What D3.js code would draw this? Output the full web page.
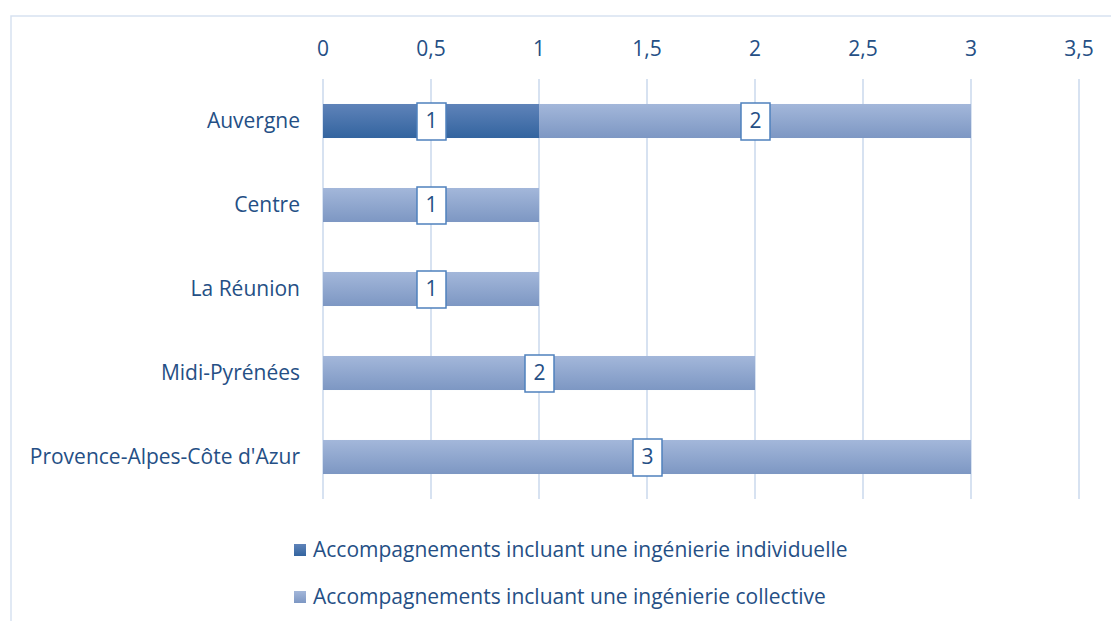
<!DOCTYPE html>
<meta charset="utf-8">
<style>
body { margin: 0; background: #fff; }
text { font-family: "Open Sans", sans-serif; fill: #254f85; }
.grid line { stroke: #d7e2f1; stroke-width: 2; }
</style>
<svg width="1111" height="621"></svg>
<script src="https://cdn.jsdelivr.net/npm/d3@7/dist/d3.min.js"></script>
<script>

var regions = ["Auvergne", "Centre", "La Réunion", "Midi-Pyrénées", "Provence-Alpes-Côte d'Azur"];
var individuelle = [1, 0, 0, 0, 0];
var collective = [2, 1, 1, 2, 3];
var ticks = [0, 0.5, 1, 1.5, 2, 2.5, 3, 3.5];
var seriesNames = ["Accompagnements incluant une ingénierie individuelle",
                   "Accompagnements incluant une ingénierie collective"];

var svg = d3.select("svg");
var defs = svg.append("defs");
var fs = 21;

function grad(id, top, bottom) {
  var lg = defs.append("linearGradient").attr("id", id)
      .attr("x1", 0).attr("y1", 0).attr("x2", 0).attr("y2", 1);
  lg.append("stop").attr("offset", "0%").attr("stop-color", top);
  lg.append("stop").attr("offset", "100%").attr("stop-color", bottom);
}
grad("gInd", "#5f83b9", "#33649f");
grad("gCol", "#a3b7da", "#7d97c3");

// chart frame
svg.append("rect")
    .attr("x", 11).attr("y", 16).attr("width", 1120).attr("height", 640)
    .attr("fill", "none").attr("stroke", "#d7e2f1").attr("stroke-width", 1.5);

var x = d3.scaleLinear().domain([0, 3.5]).range([323, 1079]);
var y = d3.scaleBand().domain(regions).range([79, 499]).paddingInner(0.595).paddingOuter(0.2975);

// gridlines
svg.append("g").attr("class", "grid")
  .selectAll("line").data(ticks).enter().append("line")
    .attr("x1", function(d) { return x(d); })
    .attr("x2", function(d) { return x(d); })
    .attr("y1", 79).attr("y2", 499);

// top tick labels
var fmt = function(d) { return String(d).replace(".", ","); };
svg.append("g").selectAll("text").data(ticks).enter().append("text")
    .attr("x", function(d) { return x(d); })
    .attr("y", 56)
    .attr("text-anchor", "middle")
    .attr("font-size", fs)
    .text(fmt);

// category labels
svg.append("g").selectAll("text").data(regions).enter().append("text")
    .attr("x", 300)
    .attr("y", function(d) { return y(d) + y.bandwidth() / 2; })
    .attr("dy", "0.33em")
    .attr("text-anchor", "end")
    .attr("font-size", fs)
    .text(function(d) { return d; });

var data = regions.map(function(r, i) {
  return {region: r, ind: individuelle[i], col: collective[i]};
});

var segs = [];
data.forEach(function(d) {
  if (d.ind > 0) segs.push({region: d.region, x0: 0, x1: d.ind, v: d.ind, fill: "url(#gInd)"});
  if (d.col > 0) segs.push({region: d.region, x0: d.ind, x1: d.ind + d.col, v: d.col, fill: "url(#gCol)"});
});

svg.append("g").selectAll("rect").data(segs).enter().append("rect")
    .attr("x", function(d) { return x(d.x0); })
    .attr("y", function(d) { return y(d.region); })
    .attr("width", function(d) { return x(d.x1) - x(d.x0); })
    .attr("height", y.bandwidth())
    .attr("fill", function(d) { return d.fill; });

// data labels
var lab = svg.append("g").selectAll("g").data(segs).enter().append("g")
    .attr("transform", function(d) {
      return "translate(" + x((d.x0 + d.x1) / 2) + "," + (y(d.region) + y.bandwidth() / 2) + ")";
    });
lab.append("rect")
    .attr("x", -14).attr("y", -18).attr("width", 29).attr("height", 37)
    .attr("fill", "#fff").attr("stroke", "#4f81bd").attr("stroke-width", 1.5);
lab.append("text")
    .attr("text-anchor", "middle").attr("dy", "0.33em").attr("x", 0.5)
    .attr("font-size", fs)
    .text(function(d) { return d.v; });

// legend
var leg = svg.append("g").selectAll("g").data(seriesNames).enter().append("g")
    .attr("transform", function(d, i) { return "translate(294," + (550 + i * 47) + ")"; });
leg.append("rect")
    .attr("x", 0).attr("y", -6).attr("width", 12).attr("height", 12)
    .attr("fill", function(d, i) { return i === 0 ? "url(#gInd)" : "url(#gCol)"; });
leg.append("text")
    .attr("x", 19).attr("dy", "0.33em")
    .attr("font-size", fs)
    .text(function(d) { return d; });

</script>
